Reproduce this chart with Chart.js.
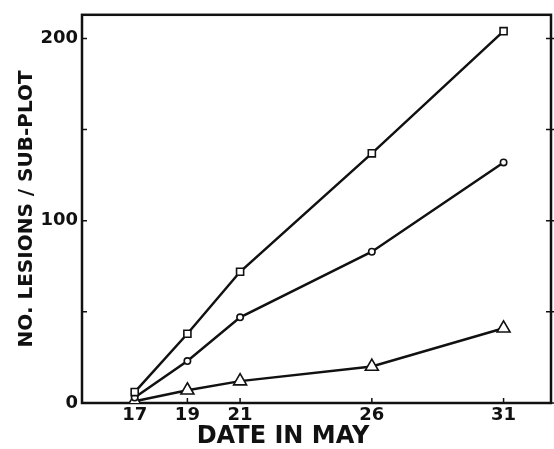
<!DOCTYPE html>
<html>
<head>
<meta charset="utf-8">
<script src="https://cdn.jsdelivr.net/npm/chart.js@4/dist/chart.umd.min.js"></script>
<style>
  html, body { margin: 0; padding: 0; background: #fff; }
</style>
</head>
<body>
<canvas id="graph" width="554" height="449"></canvas>
<script>
// days of May and lesion counts per sub-plot
days = [17, 19, 21, 26, 31];
squares = [6, 38, 72, 137, 204];
circles = [3, 23, 47, 83, 132];
triangles = [1, 7, 12, 20, 41];
yTicks = [0, 50, 100, 150, 200];
yLabels = [0, 100, 200];

function points(vals) {
    return days.map((d, i) => ({ x: d, y: vals[i] }));
}

const FONT = '"DejaVu Sans", sans-serif';

// box round the plot, small tick marks, and the x axis title
const frame = {
    id: 'frame',
    beforeDatasetsDraw(chart) {
        const a = chart.chartArea;
        const ctx = chart.ctx;
        const x = chart.scales.x, y = chart.scales.y;
        ctx.save();
        ctx.strokeStyle = '#111';
        ctx.lineWidth = 2.5;
        ctx.strokeRect(a.left, a.top, a.right - a.left, a.bottom - a.top);
        ctx.lineWidth = 1.5;
        ctx.beginPath();
        yTicks.forEach(v => {
            const py = y.getPixelForValue(v);
            ctx.moveTo(a.left, py); ctx.lineTo(a.left + 5, py);
            ctx.moveTo(a.right - 5, py); ctx.lineTo(a.right + 3, py);
        });
        days.forEach(d => {
            const px = x.getPixelForValue(d);
            ctx.moveTo(px, a.bottom); ctx.lineTo(px, a.bottom - 5);
        });
        ctx.stroke();
        ctx.restore();
    },
    afterDraw(chart) {
        const ctx = chart.ctx;
        ctx.save();
        ctx.fillStyle = '#111';
        ctx.font = 'bold 24px ' + FONT;
        ctx.textAlign = 'center';
        ctx.textBaseline = 'middle';
        ctx.fillText('DATE IN MAY', 283, 437);
        ctx.restore();
    }
};

function series(vals, style, r) {
    return {
        data: points(vals),
        borderColor: '#111',
        borderWidth: 2.5,
        pointStyle: style,
        pointRadius: r,
        pointBorderWidth: 1.6,
        pointBackgroundColor: '#fff',
        pointBorderColor: '#111',
        tension: 0
    };
}

const ctx = document.getElementById('graph').getContext('2d');
let myChart = new Chart(ctx, {
    type: 'line',
    data: {
        datasets: [
            series(squares, 'rect', 5),
            series(circles, 'circle', 3.2),
            series(triangles, 'triangle', 7.5)
        ]
    },
    plugins: [frame],
    options: {
        responsive: false,
        animation: false,
        layout: { autoPadding: false, padding: { top: 13, right: 3, left: 0, bottom: 0 } },
        plugins: { legend: { display: false }, tooltip: { enabled: false } },
        scales: {
            x: {
                type: 'linear',
                min: 15,
                max: 32.8,
                afterFit: s => { s.height = 46; },
                afterBuildTicks: s => { s.ticks = days.map(v => ({ value: v })); },
                grid: { display: false, drawTicks: false },
                border: { display: false },
                ticks: {
                    padding: 2,
                    color: '#111',
                    font: { family: FONT, size: 18, weight: 'bold' }
                }
            },
            y: {
                min: 0,
                max: 213,
                afterFit: s => { s.width = 82; },
                afterBuildTicks: s => { s.ticks = yTicks.map(v => ({ value: v })); },
                grid: { display: false, drawTicks: false },
                border: { display: false },
                ticks: {
                    padding: 4,
                    color: '#111',
                    font: { family: FONT, size: 18, weight: 'bold' },
                    callback: v => yLabels.includes(v) ? String(v) : ''
                },
                title: {
                    display: true,
                    text: 'NO. LESIONS / SUB-PLOT',
                    color: '#111',
                    padding: { top: 15, bottom: 0 },
                    font: { family: FONT, size: 20, weight: 'bold' }
                }
            }
        }
    }
});
</script>
</body>
</html>
